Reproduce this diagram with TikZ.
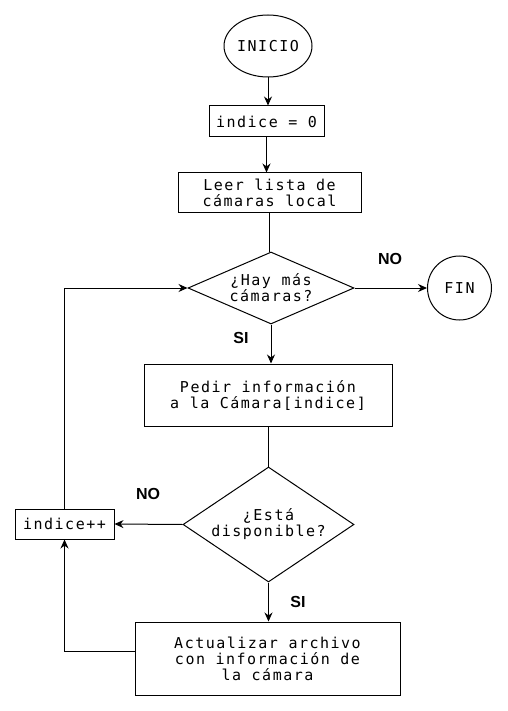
\documentclass[tikz,border=0pt]{standalone}
\usepackage{fontspec}
\usetikzlibrary{shapes.geometric,arrows.meta}
\newfontfamily\monof[LetterSpace=10]{DejaVu Sans Mono}
\newfontfamily\lblf{Liberation Sans}
\begin{document}
\begin{tikzpicture}[x=1pt,y=-1pt,
  every node/.style={font=\monof\fontsize{15}{16}\selectfont, inner sep=0pt, line width=1pt},
  boxn/.style={draw, rectangle, align=center},
  dia/.style={draw, diamond, inner sep=-30pt, align=center},
  arr/.style={line width=1pt, -{Stealth[length=9pt,width=8pt]}},
  ln/.style={line width=1pt},
  lbl/.style={font=\lblf\bfseries\fontsize{16}{18}\selectfont}]
\useasboundingbox (0,0) rectangle (507,711);
\node[draw, ellipse, minimum width=88pt, minimum height=62pt] (inicio) at (268,46) {INICIO};
\node[boxn, minimum width=115pt, minimum height=31pt] (ind0) at (266.5,121.5) {indice = 0};
\node[boxn, minimum width=183pt, minimum height=40pt] (leer) at (269.5,193) {Leer lista de\\cámaras local};
\node[dia, minimum width=166pt, minimum height=72pt] (d1) at (271,288) {¿Hay más\\cámaras?};
\node[draw, circle, minimum size=64pt] (fin) at (459.5,288) {FIN};
\node[boxn, minimum width=248pt, minimum height=62pt] (pedir) at (268,395) {Pedir información\\a la Cámara[indice]};
\node[dia, minimum width=171pt, minimum height=115pt] (d2) at (268.5,524.5) {¿Está\\disponible?};
\node[boxn, minimum width=99pt, minimum height=30pt] (inc) at (64.5,524) {indice++};
\node[boxn, minimum width=265pt, minimum height=73pt] (act) at (267.5,658.5) {Actualizar archivo\\con información de\\la cámara};
\node[lbl] (no1) at (390,259) {NO};
\node[lbl] (si1) at (241,338) {SI};
\node[lbl] (no2) at (148,494) {NO};
\node[lbl] (si2) at (298,602) {SI};
\draw[arr] (inicio.south) -- (inicio.south |- ind0.north);
\draw[arr] (ind0.south) -- (ind0.south |- leer.north);
\draw[ln] (leer.south) -- (leer.south |- d1.north);
\draw[arr] (d1.east) -- (fin.west);
\draw[arr] (d1.south) -- (d1.south |- pedir.north);
\draw[ln] (pedir.south) -- (pedir.south |- d2.north);
\draw[arr] (d2.west) -- (inc.east);
\draw[arr] (d2.south) -- (d2.south |- act.north);
\draw[arr] ([yshift=7pt]act.west) -| (inc.south);
\draw[arr] (inc.north) |- (d1.west);
\end{tikzpicture}
\end{document}
